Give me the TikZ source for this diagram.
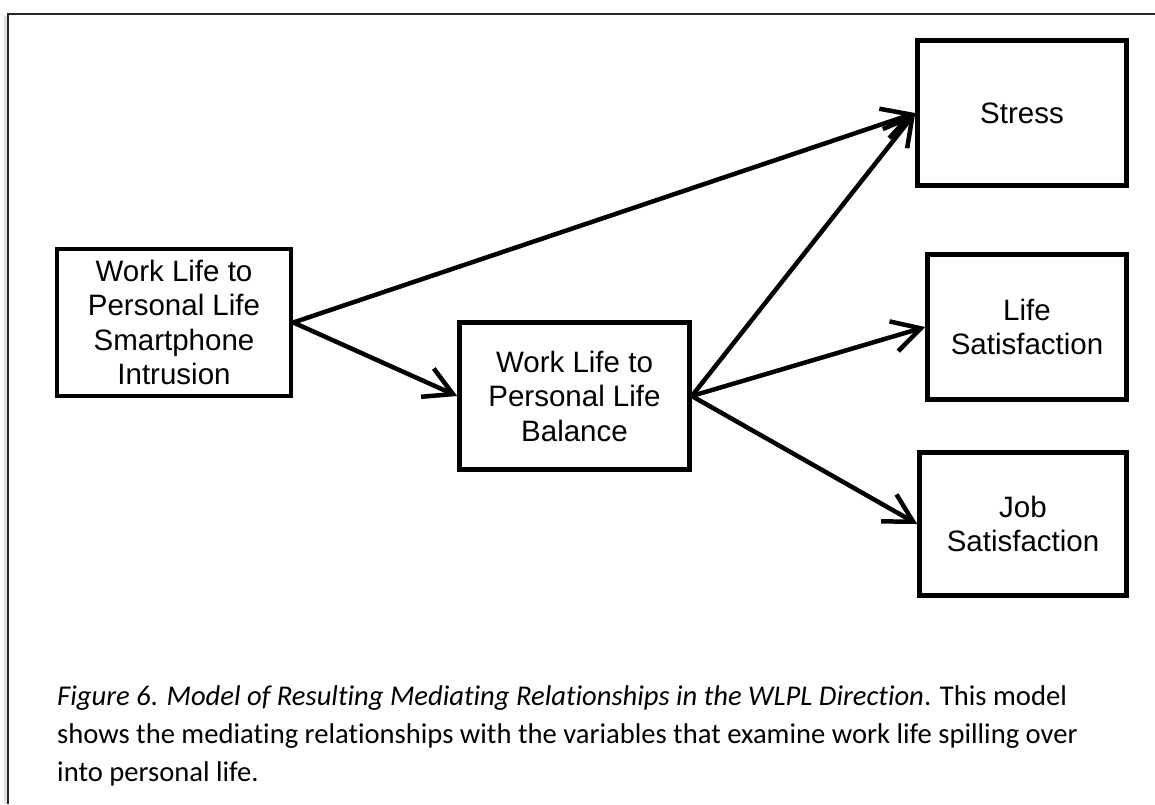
\documentclass[tikz,border=0pt]{standalone}
\usepackage{fontspec}
\setmainfont{Liberation Sans}
\newfontfamily\capfont[Ligatures=NoCommon]{Carlito}
\usetikzlibrary{arrows.meta}

\tikzset{
  varbox/.style={draw=black, line width=4.6pt, align=center, inner sep=0pt,
    font=\fontsize{29.5}{34.5}\selectfont},
  link/.style={line width=4.5pt, -{Straight Barb[length=28pt,width=31pt,line width=4.5pt]}},
  framerule/.style={line width=2pt, draw=black!85}
}

\begin{document}
\begin{tikzpicture}[x=1pt,y=-1pt]
  \useasboundingbox (0,0) rectangle (1155,804);
  \fill[white] (0,0) rectangle (1155,804);

  % page frame: left and top edges with a faint shadow
  \draw[line width=3pt, black!12] (5.5,16) -- (5.5,804);
  \draw[framerule] (1155,13.5) -- (8,13.5) -- (8,804);

  % variables
  \node[varbox, minimum width=234pt, minimum height=147pt] (intr) at (174,322.5)
    {Work Life to\\Personal Life\\Smartphone\\Intrusion};
  \node[varbox, minimum width=230pt, minimum height=147pt] (bal) at (574.5,396)
    {Work Life to\\Personal Life\\Balance};
  \node[varbox, minimum width=209pt, minimum height=145pt] (stress) at (1022,113)
    {Stress};
  \node[varbox, minimum width=199pt, minimum height=145pt] (life) at (1027,327)
    {Life\\Satisfaction};
  \node[varbox, minimum width=207pt, minimum height=143pt] (job) at (1023,524)
    {Job\\Satisfaction};

  % paths
  \draw[link] (intr.east) -- (stress.west);
  \draw[link] (intr.east) -- (bal.west);
  \draw[link] (bal.east) -- (stress.west);
  \draw[link] (bal.east) -- (life.west);
  \draw[link] (bal.east) -- (job.west);

  % caption (base anchor sits on the last line)
  \node[anchor=base west, inner sep=0pt, align=left,
        font=\capfont\fontsize{28.6}{38}\selectfont] (cap) at (57,781)
    {\textit{Figure 6}. \textit{Model of Resulting Mediating Relationships in the WLPL Direction}. This model\\
     shows the mediating relationships with the variables that examine work life spilling over\\
     into personal life.};
\end{tikzpicture}
\end{document}
